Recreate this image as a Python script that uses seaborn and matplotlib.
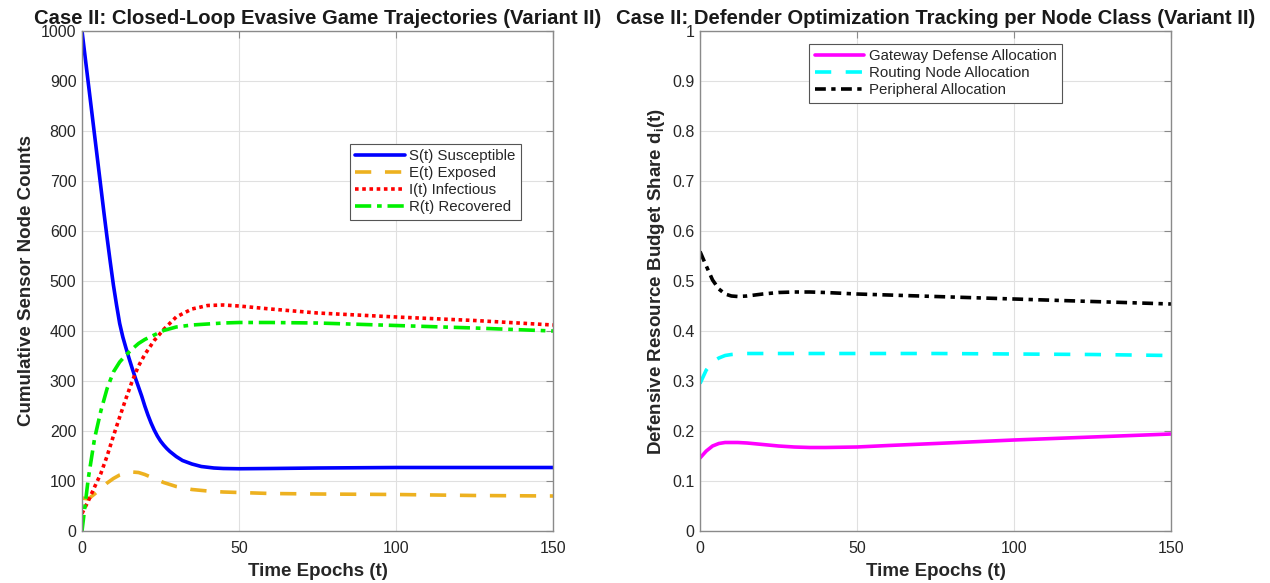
import numpy as np
import pandas as pd
import seaborn as sns
import matplotlib.pyplot as plt

# left panel: SEIR node counts
t_S = [0, 2, 4, 6, 7, 8, 9, 10, 11, 12, 13, 14, 15, 16, 17, 18, 19, 20, 21, 22, 23, 24, 25, 26, 27, 28, 30,
       32, 35, 38, 42, 45, 50, 60, 75, 100, 125, 150]
S_vals = [1000, 896, 792, 688, 636, 586, 538, 492, 452, 415, 388, 366, 345, 325, 306, 288, 270, 250, 232, 216,
          202, 190, 180, 172, 165, 159, 149, 141, 134, 129, 126, 125, 124.5, 125, 126, 127, 127, 127]

t_seir = [0, 2, 4, 6, 8, 10, 12, 14, 16, 18, 20, 23, 26, 30, 35, 40, 45, 50, 60, 75, 100, 125, 150]
E_vals = [66, 64, 74, 85, 96, 105, 112, 116, 118, 117, 113, 105, 97, 89, 83, 80, 78, 77, 75, 74, 73, 71, 70]
I_vals = [35, 60, 88, 115, 150, 190, 228, 265, 300, 330, 353, 381, 403, 428, 444, 451, 452, 450, 444, 436, 428, 421, 412]
R_vals = [0, 105, 185, 240, 285, 318, 338, 352, 364, 375, 383, 392, 401, 408, 412, 414, 416, 417, 417, 416, 411, 406, 400]
seir_labels = ['S(t) Susceptible', 'E(t) Exposed', 'I(t) Infectious', 'R(t) Recovered']

# right panel: defender budget share per node class
t_def = [0, 2, 4, 6, 8, 10, 12, 15, 20, 25, 30, 35, 40, 50, 60, 75, 100, 125, 150]
gateway = [0.146, 0.160, 0.170, 0.175, 0.177, 0.177, 0.177, 0.176, 0.173, 0.170, 0.168, 0.167, 0.167, 0.168, 0.171, 0.175, 0.182, 0.188, 0.194]
routing = [0.295, 0.322, 0.338, 0.346, 0.351, 0.353, 0.354, 0.355, 0.355, 0.355, 0.355, 0.355, 0.355, 0.355, 0.355, 0.355, 0.354, 0.353, 0.351]
peripheral = [0.559, 0.530, 0.502, 0.484, 0.474, 0.470, 0.469, 0.470, 0.474, 0.477, 0.478, 0.478, 0.477, 0.474, 0.472, 0.469, 0.464, 0.459, 0.454]
def_labels = ['Gateway Defense Allocation', 'Routing Node Allocation', 'Peripheral Allocation']

sns.set_theme(style='whitegrid')
plt.rcParams['font.family'] = ['Liberation Sans', 'DejaVu Sans']
plt.rcParams['mathtext.default'] = 'regular'

fig = plt.figure(figsize=(12.7, 5.83), dpi=100)
ax1 = fig.add_axes([82 / 1270, 52 / 583, 471 / 1270, 500 / 583])
ax2 = fig.add_axes([700 / 1270, 52 / 583, 471 / 1270, 500 / 583])

lw = 2.6
seir_series = [(t_S, S_vals), (t_seir, E_vals), (t_seir, I_vals), (t_seir, R_vals)]
seir_styles = [('#0000ff', None), ('#edb120', (4.5, 3.8)), ('#ff0000', (1, 1)), ('#00f000', (4.5, 1.6, 1.3, 1.6))]
for (tt, vals), lab, (col, dash) in zip(seir_series, seir_labels, seir_styles):
    sns.lineplot(x=tt, y=vals, ax=ax1, color=col, linewidth=lw, label=lab)
    line = ax1.lines[-1]
    if dash is not None:
        line.set_dashes(dash)
        line.set_dash_capstyle('butt')

def_styles = [('#ff00ff', None), ('#00ffff', (4.5, 4)), ('#000000', (3, 1.5, 1.2, 1.5))]
for vals, lab, (col, dash) in zip([gateway, routing, peripheral], def_labels, def_styles):
    sns.lineplot(x=t_def, y=vals, ax=ax2, color=col, linewidth=lw, label=lab)
    line = ax2.lines[-1]
    if dash is not None:
        line.set_dashes(dash)
        line.set_dash_capstyle('butt')

for ax in (ax1, ax2):
    ax.set_xlim(0, 150)
    ax.set_xticks([0, 50, 100, 150])
    ax.grid(True, color='#e0e0e0', linewidth=0.8)
    for sp in ax.spines.values():
        sp.set_color('#8a8a8a')
        sp.set_linewidth(1.0)
    ax.tick_params(direction='in', top=True, right=True, length=5, width=0.8,
                   color='#8a8a8a', labelcolor='#262626', labelsize=11.5, pad=4)
    ax.tick_params(axis='x', pad=7)
    ax.set_xlabel('Time Epochs (t)', fontsize=13.5, fontweight='bold', color='#262626', labelpad=5)

ax1.set_ylim(0, 1000)
ax1.set_yticks(np.arange(0, 1001, 100))
ax1.set_ylabel('Cumulative Sensor Node Counts', fontsize=13.5, fontweight='bold', color='#262626')
ax1.set_title('Case II: Closed-Loop Evasive Game Trajectories (Variant II)',
              fontsize=14.6, fontweight='bold', color='#1a1a1a', pad=5)

ax2.set_ylim(0, 1)
ax2.set_yticks(np.arange(0, 1.01, 0.1))
ax2.set_yticklabels(['0', '0.1', '0.2', '0.3', '0.4', '0.5', '0.6', '0.7', '0.8', '0.9', '1'])
ax2.set_ylabel('Defensive Resource Budget Share d$_i$(t)', fontsize=13.5, fontweight='bold', color='#262626')
ax2.set_title('Case II: Defender Optimization Tracking per Node Class (Variant II)',
              fontsize=14.6, fontweight='bold', color='#1a1a1a', pad=5)

leg_kw = dict(fontsize=10.8, handlelength=3.3, labelspacing=0.2, borderpad=0.35, borderaxespad=0,
              handletextpad=0.3, fancybox=False, framealpha=1, edgecolor='#555555')
leg1 = ax1.legend(loc='upper right', bbox_to_anchor=((521 - 82) / 471, (531 - 144) / 500), **leg_kw)
leg2 = ax2.legend(loc='upper center', bbox_to_anchor=(0.5, (531 - 44) / 500), **leg_kw)
for leg in (leg1, leg2):
    leg.get_frame().set_linewidth(0.8)
    for txt in leg.get_texts():
        txt.set_color('#262626')

fig.savefig('out.png', dpi=100)
